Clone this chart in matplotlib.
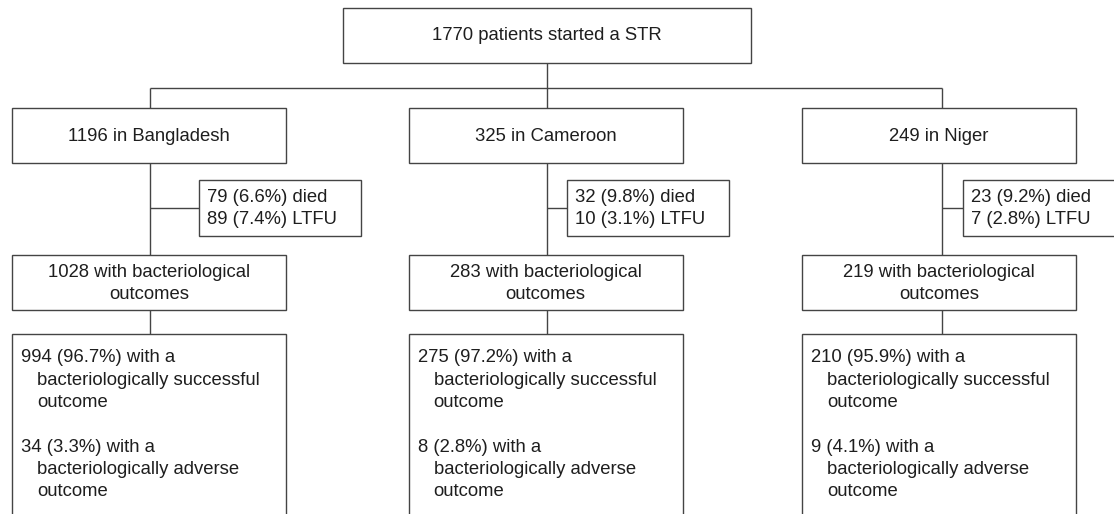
import matplotlib
matplotlib.use("Agg")
import matplotlib.pyplot as plt
from matplotlib.patches import Rectangle

plt.rcParams["font.family"] = ["Liberation Sans", "DejaVu Sans"]

# counts
total_started = 1770
countries = ["Bangladesh", "Cameroon", "Niger"]
n_country = [1196, 325, 249]
n_died = [79, 32, 23]
pct_died = [6.6, 9.8, 9.2]
n_ltfu = [89, 10, 7]
pct_ltfu = [7.4, 3.1, 2.8]
n_bact = [1028, 283, 219]
n_success = [994, 275, 210]
pct_success = [96.7, 97.2, 95.9]
n_adverse = [34, 8, 9]
pct_adverse = [3.3, 2.8, 4.1]

# layout (pixel coordinates, y down)
W, H = 1114, 514
FS = 13.3
LINE_C = "#444444"
TEXT_C = "#1e1e1e"
LW = 1.0
LH = 22.3

col_left = [12, 408.5, 802]
col_right = [286, 683, 1076]
conn_x = [150, 547, 942]
died_left = [199, 567, 963]
died_w = 162

top_box = (343, 8, 751, 63)
branch_y = 88
country_y = (108, 163)
died_y = (180, 236)
bact_y = (255, 310)
result_top = 334

fig = plt.figure(figsize=(W / 100, H / 100), dpi=100)
ax = fig.add_axes([0, 0, 1, 1])
ax.set_xlim(0, W)
ax.set_ylim(H, 0)
ax.axis("off")


def box(x0, y0, x1, y1):
    ax.add_patch(Rectangle((x0, y0), x1 - x0, y1 - y0, facecolor="white",
                           edgecolor=LINE_C, lw=LW, zorder=2))


def line(xs, ys):
    ax.plot(xs, ys, color=LINE_C, lw=LW, zorder=1, solid_capstyle="butt")


def txt(x, y, s, ha="left"):
    ax.text(x, y, s, fontsize=FS, color=TEXT_C, ha=ha, va="center", zorder=3)


# top box
x0, y0, x1, y1 = top_box
box(x0, y0, x1, y1)
cx_top = (x0 + x1) / 2
txt(cx_top, (y0 + y1) / 2, f"{total_started} patients started a STR", ha="center")
line([cx_top, cx_top], [y1, branch_y])
line([conn_x[0], conn_x[-1]], [branch_y, branch_y])

for i, name in enumerate(countries):
    L, R, cx = col_left[i], col_right[i], conn_x[i]
    # connectors
    line([cx, cx], [branch_y, result_top])
    dy = (died_y[0] + died_y[1]) / 2
    line([cx, died_left[i]], [dy, dy])

    # country box
    box(L, country_y[0], R, country_y[1])
    txt((L + R) / 2, (country_y[0] + country_y[1]) / 2 + 1, f"{n_country[i]} in {name}", ha="center")

    # died / lost to follow-up box
    box(died_left[i], died_y[0], died_left[i] + died_w, died_y[1])
    tx = died_left[i] + 8
    txt(tx, dy - 10, f"{n_died[i]} ({pct_died[i]}%) died")
    txt(tx, dy + 12, f"{n_ltfu[i]} ({pct_ltfu[i]}%) LTFU")

    # bacteriological outcomes box
    box(L, bact_y[0], R, bact_y[1])
    by = (bact_y[0] + bact_y[1]) / 2
    txt((L + R) / 2, by - 10, f"{n_bact[i]} with bacteriological", ha="center")
    txt((L + R) / 2, by + 12, "outcomes", ha="center")

    # final outcome box (runs off the bottom edge)
    box(L, result_top, R, H + 20)
    lines = [
        (0, f"{n_success[i]} ({pct_success[i]}%) with a"),
        (1, "bacteriologically successful"),
        (1, "outcome"),
        (0, ""),
        (0, f"{n_adverse[i]} ({pct_adverse[i]}%) with a"),
        (1, "bacteriologically adverse"),
        (1, "outcome"),
    ]
    for k, (indent, s) in enumerate(lines):
        if s:
            txt(L + 9 + indent * 16, 358 + k * LH, s)

fig.savefig("out.png", dpi=100, facecolor="white")
